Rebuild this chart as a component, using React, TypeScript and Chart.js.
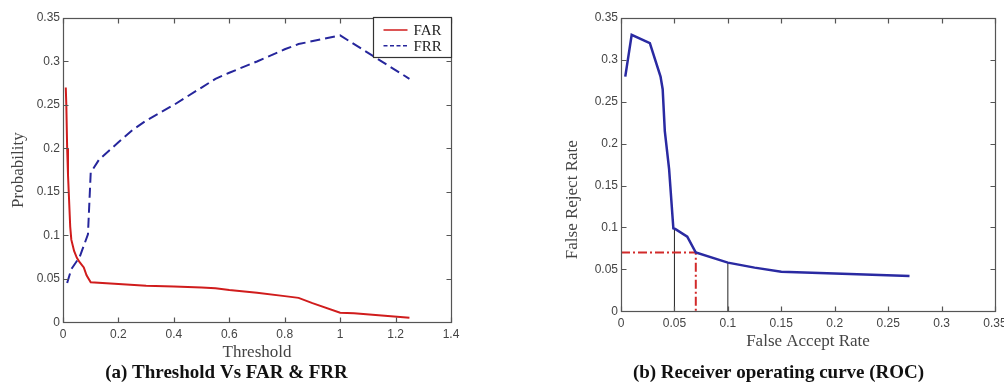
import React, { useEffect, useRef } from "react";
import { Chart, registerables } from "chart.js";

Chart.register(...registerables);

// ---------- (a) Threshold Vs FAR & FRR ----------
const farThreshold = [0.01, 0.012, 0.015, 0.018, 0.022, 0.026, 0.03, 0.04, 0.05, 0.06, 0.075, 0.085, 0.1, 0.2, 0.3, 0.4, 0.5, 0.55, 0.6, 0.7, 0.8, 0.85, 0.9, 1.0, 1.05, 1.25];
const farValues = [0.27, 0.25, 0.2, 0.17, 0.14, 0.11, 0.095, 0.082, 0.074, 0.069, 0.063, 0.054, 0.046, 0.044, 0.042, 0.041, 0.04, 0.039, 0.037, 0.034, 0.03, 0.028, 0.022, 0.011, 0.0104, 0.005];
const frrThreshold = [0.015, 0.03, 0.06, 0.09, 0.1, 0.13, 0.2, 0.25, 0.3, 0.4, 0.5, 0.55, 0.6, 0.7, 0.8, 0.85, 1.0, 1.25];
const frrValues = [0.045, 0.061, 0.075, 0.101, 0.172, 0.187, 0.207, 0.221, 0.232, 0.25, 0.27, 0.28, 0.287, 0.3, 0.314, 0.32, 0.33, 0.28];
const thresholdTicks = [0, 0.2, 0.4, 0.6, 0.8, 1, 1.2, 1.4];
const thresholdTickLabels = ["0", "0.2", "0.4", "0.6", "0.8", "1", "1.2", "1.4"];
const probabilityTicks = [0, 0.05, 0.1, 0.15, 0.2, 0.25, 0.3, 0.35];
const probabilityTickLabels = ["0", "0.05", "0.1", "0.15", "0.2", "0.25", "0.3", "0.35"];
const captionA = "(a) Threshold Vs FAR & FRR";

// ---------- (b) Receiver operating curve ----------
const rocFar = [0.004, 0.01, 0.027, 0.037, 0.039, 0.041, 0.045, 0.049, 0.051, 0.062, 0.07, 0.1, 0.125, 0.15, 0.2, 0.27];
const rocFrr = [0.28, 0.33, 0.32, 0.28, 0.265, 0.215, 0.17, 0.099, 0.098, 0.089, 0.07, 0.058, 0.052, 0.047, 0.045, 0.042];
const markerFar = [0.05, 0.1];
const markerFrr = [0.098, 0.058];
const eerFar = 0.07;
const eerFrr = 0.07;
const rateTicks = [0, 0.05, 0.1, 0.15, 0.2, 0.25, 0.3, 0.35];
const rateTickLabels = ["0", "0.05", "0.1", "0.15", "0.2", "0.25", "0.3", "0.35"];
const captionB = "(b) Receiver operating curve (ROC)";
const rocXTitle = "False Accept Rate";
const rocYTitle = "False Reject Rate";

const SANS = '"Liberation Sans", Arial, sans-serif';
const SERIF = '"Liberation Serif", "Times New Roman", serif';

const zip = (xs: number[], ys: number[]) => xs.map((x, i) => ({ x, y: ys[i] }));

const boxPlugin = {
  id: "matlabBox",
  afterDatasetsDraw(chart: any) {
    const { ctx, chartArea: a, scales } = chart;
    const L = Math.round(a.left) + 0.5;
    const R = Math.round(a.right) + 0.5;
    const T = Math.round(a.top) + 0.5;
    const B = Math.round(a.bottom) + 0.5;
    const len = 5;
    ctx.save();
    ctx.setLineDash([]);
    ctx.strokeStyle = "#555";
    ctx.lineWidth = 1.2;
    ctx.strokeRect(L, T, R - L, B - T);
    ctx.beginPath();
    scales.x.ticks.forEach((t: any) => {
      const px = Math.round(scales.x.getPixelForValue(t.value)) + 0.5;
      ctx.moveTo(px, B);
      ctx.lineTo(px, B - len);
      ctx.moveTo(px, T);
      ctx.lineTo(px, T + len);
    });
    scales.y.ticks.forEach((t: any) => {
      const py = Math.round(scales.y.getPixelForValue(t.value)) + 0.5;
      ctx.moveTo(L, py);
      ctx.lineTo(L + len, py);
      ctx.moveTo(R, py);
      ctx.lineTo(R - len, py);
    });
    ctx.stroke();
    ctx.restore();
  },
};

const legendPlugin = {
  id: "boxLegend",
  afterDraw(chart: any) {
    const { ctx, chartArea: a } = chart;
    const w = 78;
    const h = 40;
    const x0 = Math.round(a.right - w) + 0.5;
    const y0 = Math.round(a.top - 1.5) + 0.5;
    ctx.save();
    ctx.fillStyle = "#fff";
    ctx.fillRect(x0, y0, w, h);
    ctx.strokeStyle = "#333";
    ctx.lineWidth = 1.2;
    ctx.strokeRect(x0, y0, w, h);
    chart.data.datasets.forEach((ds: any, i: number) => {
      const yy = y0 + 12.5 + i * 15.7;
      ctx.strokeStyle = ds.borderColor;
      ctx.lineWidth = 1.5;
      ctx.setLineDash(ds.borderDash ? [4, 2.5] : []);
      ctx.beginPath();
      ctx.moveTo(x0 + 10, yy);
      ctx.lineTo(x0 + 34, yy);
      ctx.stroke();
      ctx.setLineDash([]);
      ctx.fillStyle = "#222";
      ctx.font = `15px ${SERIF}`;
      ctx.textAlign = "left";
      ctx.textBaseline = "middle";
      ctx.fillText(ds.label, x0 + 40, yy + 1);
    });
    ctx.restore();
  },
};

const sideTitlePlugin = {
  id: "sideTitle",
  afterDraw(chart: any) {
    const { ctx, chartArea: a } = chart;
    ctx.save();
    ctx.translate(a.left - 48, a.bottom - 111.5);
    ctx.rotate(-Math.PI / 2);
    ctx.font = `17px ${SERIF}`;
    ctx.fillStyle = "#444";
    ctx.textAlign = "center";
    ctx.textBaseline = "middle";
    ctx.fillText(rocYTitle, 0, 0);
    ctx.restore();
  },
};

const tickFont = { family: SANS, size: 12 };

function linearAxis(
  min: number,
  max: number,
  ticks: number[],
  labels: string[],
  size: number,
  horizontal: boolean,
  title: any
) {
  return {
    type: "linear",
    min,
    max,
    afterBuildTicks: (scale: any) => {
      scale.ticks = ticks.map((v) => ({ value: v }));
    },
    afterFit: (scale: any) => {
      if (horizontal) {
        scale.height = size;
        scale.paddingLeft = 0;
        scale.paddingRight = 0;
      } else {
        scale.width = size;
        scale.paddingTop = 0;
        scale.paddingBottom = 0;
      }
    },
    ticks: {
      autoSkip: false,
      maxRotation: 0,
      padding: horizontal ? 5 : 3,
      color: "#444",
      font: tickFont,
      callback: (_v: any, i: number) => labels[i],
    },
    grid: { display: false, drawTicks: false },
    border: { display: false },
    title,
  };
}

function configA() {
  return {
    type: "scatter",
    data: {
      datasets: [
        {
          label: "FAR",
          data: zip(farThreshold, farValues),
          showLine: true,
          borderColor: "#d01c1c",
          borderWidth: 2,
          pointRadius: 0,
          tension: 0,
        },
        {
          label: "FRR",
          data: zip(frrThreshold, frrValues),
          showLine: true,
          borderColor: "#26269c",
          borderWidth: 2,
          borderDash: [10, 5],
          pointRadius: 0,
          tension: 0,
        },
      ],
    },
    options: {
      responsive: false,
      animation: false,
      devicePixelRatio: 1,
      layout: { padding: { left: 2, right: 11, top: 18, bottom: 0 } },
      plugins: {
        legend: { display: false },
        tooltip: { enabled: false },
        title: {
          display: true,
          position: "bottom",
          text: captionA,
          color: "#111",
          font: { family: SERIF, size: 19, weight: "bold", lineHeight: 1.2 },
          padding: { top: 0, bottom: 0 },
        },
      },
      scales: {
        x: linearAxis(0, 1.4, thresholdTicks, thresholdTickLabels, 39, true, {
          display: true,
          text: "Threshold",
          color: "#444",
          font: { family: SERIF, size: 17, lineHeight: 1 },
          padding: { top: 0, bottom: 0 },
        }),
        y: linearAxis(0, 0.35, probabilityTicks, probabilityTickLabels, 61, false, {
          display: true,
          text: "Probability",
          color: "#444",
          font: { family: SERIF, size: 17, lineHeight: 1 },
          padding: { top: 8, bottom: 0 },
        }),
      },
    },
    plugins: [boxPlugin, legendPlugin],
  };
}

function configB() {
  return {
    type: "scatter",
    data: {
      datasets: [
        {
          label: "ROC",
          data: zip(rocFar, rocFrr),
          showLine: true,
          borderColor: "#2a2aa2",
          borderWidth: 2.5,
          pointRadius: 0,
          tension: 0,
          order: 0,
        },
        {
          label: "EER",
          data: [
            { x: 0, y: eerFrr },
            { x: eerFar, y: eerFrr },
            { x: eerFar, y: 0 },
          ],
          showLine: true,
          borderColor: "#d22a2a",
          borderWidth: 2,
          borderDash: [9, 3, 2, 3],
          pointRadius: 0,
          tension: 0,
          order: 1,
        },
        ...markerFar.map((f, i) => ({
          label: "marker" + i,
          data: [
            { x: f, y: 0 },
            { x: f, y: markerFrr[i] },
          ],
          showLine: true,
          borderColor: "#222",
          borderWidth: 1,
          pointRadius: 0,
          tension: 0,
          order: 2,
        })),
      ],
    },
    options: {
      responsive: false,
      animation: false,
      devicePixelRatio: 1,
      layout: { padding: { left: 32, right: 9, top: 18, bottom: 0 } },
      plugins: {
        legend: { display: false },
        tooltip: { enabled: false },
        title: {
          display: true,
          position: "bottom",
          text: captionB,
          color: "#111",
          font: { family: SERIF, size: 19, weight: "bold", lineHeight: 1.2 },
          padding: { top: 0, bottom: 0 },
        },
      },
      scales: {
        x: linearAxis(0, 0.35, rateTicks, rateTickLabels, 50, true, {
          display: true,
          text: rocXTitle,
          color: "#444",
          font: { family: SERIF, size: 17, lineHeight: 1 },
          padding: { top: 0, bottom: 11 },
        }),
        y: linearAxis(0, 0.35, rateTicks, rateTickLabels, 59, false, { display: false }),
      },
    },
    plugins: [boxPlugin, sideTitlePlugin],
  };
}

function ChartCanvas({ make, width, height, left }: { make: () => any; width: number; height: number; left: number }) {
  const ref = useRef<HTMLCanvasElement | null>(null);
  useEffect(() => {
    const chart = new Chart(ref.current as HTMLCanvasElement, make());
    return () => chart.destroy();
  }, []);
  return (
    <canvas
      ref={ref}
      width={width}
      height={height}
      style={{ position: "absolute", left, top: 0, width, height }}
    />
  );
}

export default function App() {
  return (
    <div
      style={{
        position: "fixed",
        left: 0,
        top: 0,
        width: 1004,
        height: 384,
        overflow: "hidden",
        background: "#fff",
      }}
    >
      <ChartCanvas make={configA} width={462} height={384} left={0} />
      <ChartCanvas make={configB} width={474} height={384} left={530} />
    </div>
  );
}
